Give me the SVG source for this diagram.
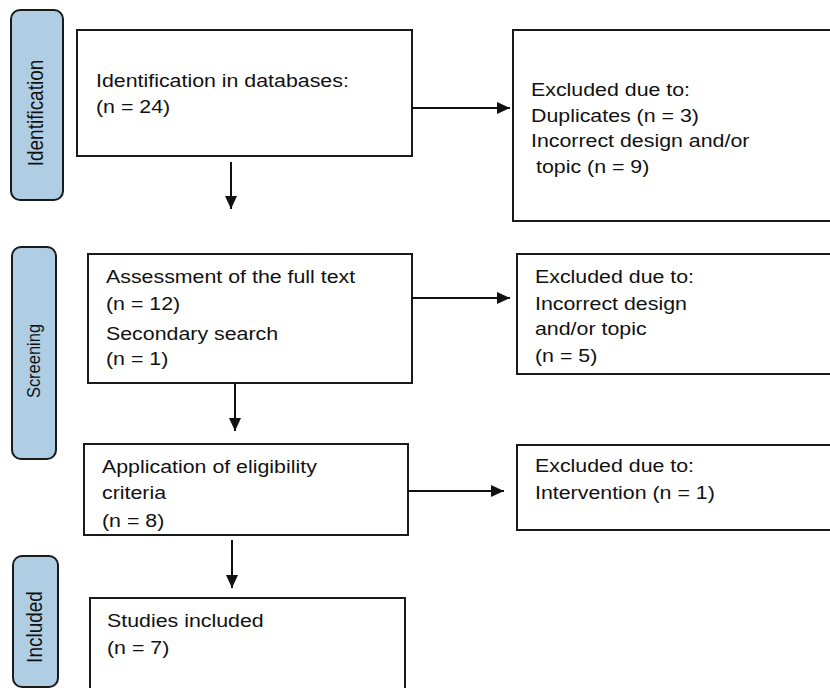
<svg xmlns="http://www.w3.org/2000/svg" width="830" height="688" viewBox="0 0 830 688">
<style>
.box{fill:#fff;stroke:#1a1a1a;stroke-width:2}
.pill{fill:#afcde3;stroke:#1a1a1a;stroke-width:2}
.t{font-family:"Liberation Sans",Arial,sans-serif;font-size:18.5px;fill:#111}
.p{font-family:"Liberation Sans",Arial,sans-serif;fill:#111;text-anchor:middle}
.c{stroke:#111;stroke-width:2;fill:none;marker-end:url(#ah)}
</style>
<defs>
<marker id="ah" viewBox="0 0 13 12" refX="13" refY="6" markerWidth="13" markerHeight="12" markerUnits="userSpaceOnUse" orient="auto">
<path d="M0,0 L13,6 L0,12 Z" fill="#111"/>
</marker>
</defs>
<rect width="830" height="688" fill="#fff"/>
<g id="stage-identification">
<rect class="pill" x="11" y="10" width="52" height="190" rx="9"/>
<text class="p" font-size="19" transform="translate(43,113) scale(1.12,1) rotate(-90)" x="0" y="0">Identification</text>
</g>
<g id="stage-screening">
<rect class="pill" x="12" y="247" width="44" height="212" rx="9"/>
<text class="p" font-size="16.5" transform="translate(40,361) scale(1.12,1) rotate(-90)" x="0" y="0">Screening</text>
</g>
<g id="stage-included">
<rect class="pill" x="13" y="556" width="45" height="131" rx="9"/>
<text class="p" font-size="19" transform="translate(42,627) scale(1.12,1) rotate(-90)" x="0" y="0">Included</text>
</g>
<g id="identification">
<rect class="box" x="77" y="30" width="335" height="126"/>
<text class="t" transform="translate(96,87) scale(1.155,1)">Identification in databases:</text>
<text class="t" transform="translate(96,113) scale(1.155,1)">(n = 24)</text>
</g>
<g id="excluded-1">
<rect class="box" x="513" y="30" width="330" height="191"/>
<text class="t" transform="translate(531,96) scale(1.155,1)">Excluded due to:</text>
<text class="t" transform="translate(531,122) scale(1.155,1)">Duplicates (n = 3)</text>
<text class="t" transform="translate(531,147) scale(1.155,1)">Incorrect design and/or</text>
<text class="t" transform="translate(536,173) scale(1.155,1)">topic (n = 9)</text>
</g>
<g id="full-text">
<rect class="box" x="88" y="254" width="324" height="129"/>
<text class="t" transform="translate(106,283) scale(1.155,1)">Assessment of the full text</text>
<text class="t" transform="translate(106,310) scale(1.155,1)">(n = 12)</text>
<text class="t" transform="translate(106,340) scale(1.155,1)">Secondary search</text>
<text class="t" transform="translate(106,365) scale(1.155,1)">(n = 1)</text>
</g>
<g id="excluded-2">
<rect class="box" x="517" y="254" width="326" height="120"/>
<text class="t" transform="translate(535,283) scale(1.155,1)">Excluded due to:</text>
<text class="t" transform="translate(535,310) scale(1.155,1)">Incorrect design</text>
<text class="t" transform="translate(535,335) scale(1.155,1)">and/or topic</text>
<text class="t" transform="translate(535,362) scale(1.155,1)">(n = 5)</text>
</g>
<g id="eligibility">
<rect class="box" x="84" y="444" width="324" height="91"/>
<text class="t" transform="translate(102,473) scale(1.155,1)">Application of eligibility</text>
<text class="t" transform="translate(102,499) scale(1.155,1)">criteria</text>
<text class="t" transform="translate(102,527) scale(1.155,1)">(n = 8)</text>
</g>
<g id="excluded-3">
<rect class="box" x="517" y="445" width="326" height="85"/>
<text class="t" transform="translate(535,472) scale(1.155,1)">Excluded due to:</text>
<text class="t" transform="translate(535,499) scale(1.155,1)">Intervention (n = 1)</text>
</g>
<g id="included">
<rect class="box" x="90" y="598" width="315" height="110"/>
<text class="t" transform="translate(107,627) scale(1.155,1)">Studies included</text>
<text class="t" transform="translate(107,654) scale(1.155,1)">(n = 7)</text>
</g>
<g id="connectors">
<line class="c" x1="231" y1="162" x2="231" y2="209"/>
<line class="c" x1="412" y1="108" x2="510" y2="108"/>
<line class="c" x1="235" y1="383" x2="235" y2="431"/>
<line class="c" x1="412" y1="298" x2="510" y2="298"/>
<line class="c" x1="408" y1="491" x2="504" y2="491"/>
<line class="c" x1="232" y1="540" x2="232" y2="588"/>
</g>
</svg>
